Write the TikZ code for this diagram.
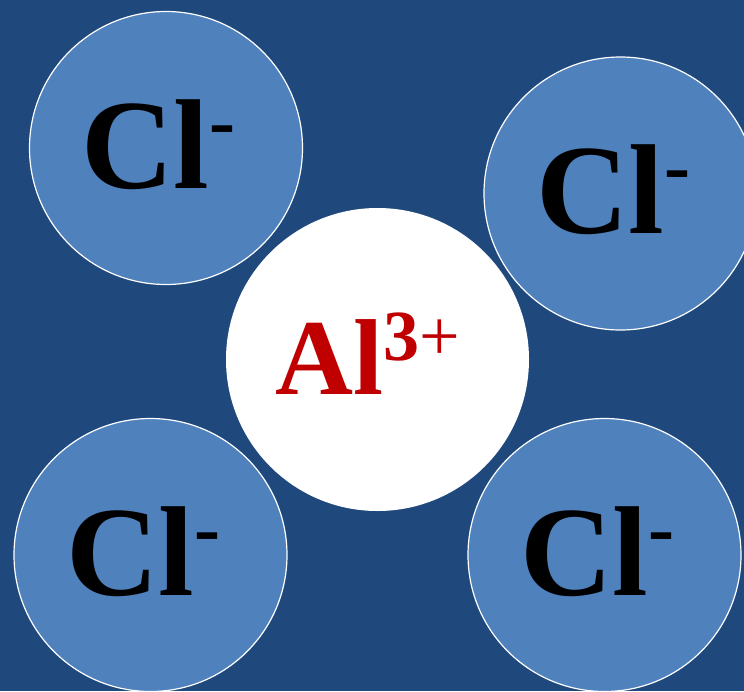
\documentclass[tikz,border=0pt]{standalone}
\usepackage{fontspec}
\setmainfont{Liberation Serif}
\definecolor{slideblue}{RGB}{31,73,125}
\definecolor{ionblue}{RGB}{79,129,189}
\definecolor{alred}{RGB}{192,0,0}
\newcommand{\charge}[3]{\raisebox{#2pt}{\fontsize{#1}{#1}\selectfont #3}}

\begin{document}
\begin{tikzpicture}[x=1pt, y=-1pt,
        anion/.style={circle, draw=white, line width=1.2pt, fill=ionblue, minimum size=273pt, inner sep=0pt, text depth=8pt, font=\fontsize{128}{130}\selectfont\bfseries},
        cation/.style={circle, fill=white, minimum size=303pt, inner sep=0pt, text depth=12pt, text=alred, font=\fontsize{108}{112}\selectfont\bfseries}
    ]
        \fill[slideblue] (0,0) rectangle (744,691);
        \useasboundingbox (0,0) rectangle (744,691);
        \clip (0,0) rectangle (744,691);

        \node[anion] (cltl) at (166,148) {Cl\charge{78}{41}{-}\kern15pt};
        \node[anion] (cltr) at (620.5,193.5) {Cl\charge{78}{41}{-}\kern15pt};
        \node[anion] (clbl) at (150.5,555) {Cl\charge{78}{41}{-}\kern15pt};
        \node[anion] (clbr) at (604.5,555) {Cl\charge{78}{41}{-}\kern15pt};

        \node[cation] (al) at (377.5,359.5) {Al\charge{72}{34}{3\mdseries+}\kern20pt};
    \end{tikzpicture}
\end{document}
